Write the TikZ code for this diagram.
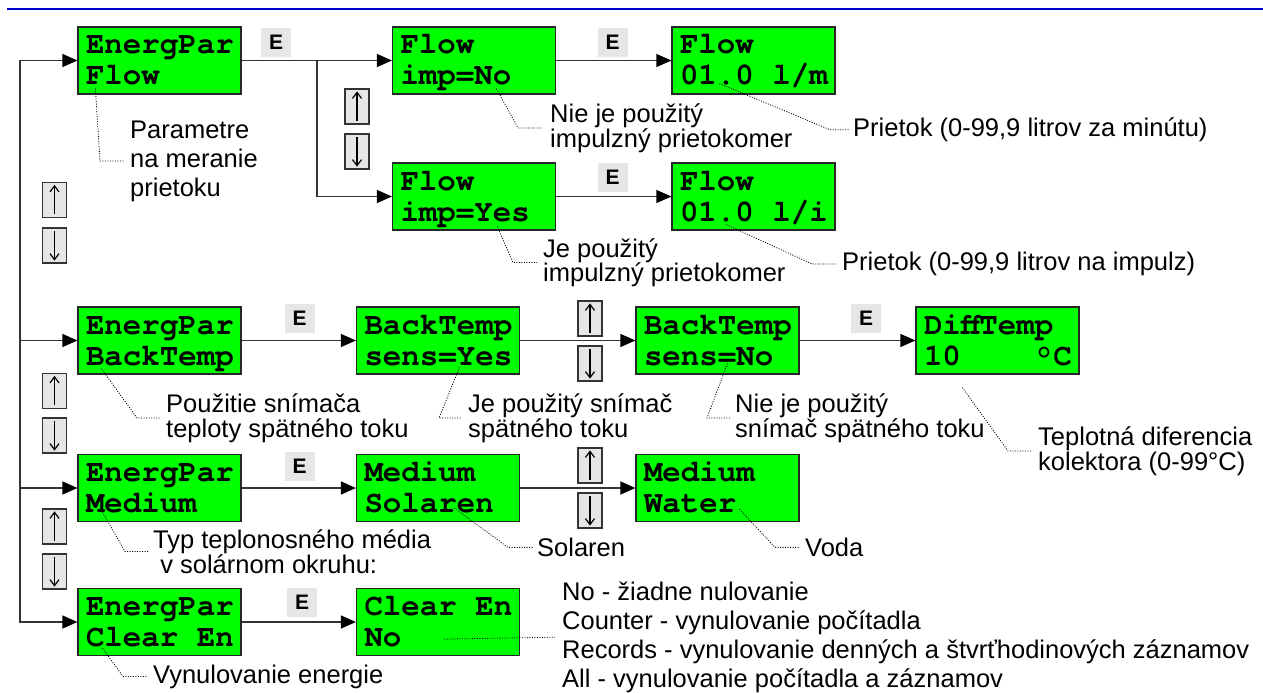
\documentclass[tikz,border=0pt]{standalone}
\usepackage{fontspec}
\setmainfont{Liberation Sans}
\newfontfamily\lcdfont{TeX Gyre Cursor}
\usetikzlibrary{arrows.meta}

\definecolor{lcdgreen}{RGB}{0,255,0}
\definecolor{keygray}{RGB}{230,230,230}
\definecolor{rulecol}{RGB}{0,0,200}

% one character cell of the display
\newcommand\lcdgap{\hphantom{0}}

\tikzset{
  lcd/.style={draw=black!85, line width=1.2pt, fill=lcdgreen,
    text width=147pt, inner xsep=8pt, inner ysep=0pt,
    text height=27pt, text depth=40pt, align=left,
    font=\lcdfont\bfseries\fontsize{30.8}{31}\selectfont},
  ekey/.style={fill=keygray, minimum width=30pt, minimum height=29pt,
    inner sep=0pt, font=\bfseries\fontsize{21}{21}\selectfont},
  btn/.style={draw=black!80, line width=1.2pt, fill=keygray,
    minimum width=24pt, minimum height=35pt, inner sep=0pt},
  keyarrow/.style={black, line width=1.2pt, -{Straight Barb[length=6pt,width=9pt]}},
  flowarr/.style={draw=black!80, line width=1.3pt,
    -{Triangle[length=15pt,width=13pt,black]}},
  lead/.style={black, line width=0.8pt, dash pattern=on 1pt off 1.5pt},
  % anchored on the baseline of the last line
  note/.style={anchor=base west, align=left, inner sep=0pt,
    font=\fontsize{25.5}{24.5}\selectfont},
  loose/.style={font=\fontsize{25.5}{28.8}\selectfont},
}

\begin{document}
\begin{tikzpicture}[x=1pt,y=-1pt]
  \useasboundingbox (0,0) rectangle (1263,693);
  \draw[rulecol,line width=1.3pt] (7,9) -- (1263,9);

  % displays
  \node[lcd] (parflow) at (159.5,60.5)  {EnergPar\\Flow};
  \node[lcd] (impno)   at (474,60.5)    {Flow\\imp=No};
  \node[lcd] (flowlm)  at (753.5,60.5)  {Flow\\01.0\lcdgap l/m};
  \node[lcd] (impyes)  at (474,196.5)   {Flow\\imp=Yes};
  \node[lcd] (flowli)  at (753.5,196.5) {Flow\\01.0\lcdgap l/i};
  \node[lcd] (parback) at (159.5,340.5) {EnergPar\\BackTemp};
  \node[lcd] (sensyes) at (438,340.5)   {BackTemp\\sens=Yes};
  \node[lcd] (sensno)  at (717.5,340.5) {BackTemp\\sens=No};
  \node[lcd] (difft)   at (997.5,340.5) {DiffTemp\\10\lcdgap\lcdgap\lcdgap\lcdgap °C};
  \node[lcd] (parmed)  at (159.5,488)   {EnergPar\\Medium};
  \node[lcd] (solar)   at (438,488)     {Medium\\Solaren};
  \node[lcd] (water)   at (717.5,488)   {Medium\\Water};
  \node[lcd] (parclr)  at (159.5,622)   {EnergPar\\Clear\lcdgap En};
  \node[lcd] (clrno)   at (438,622)     {Clear\lcdgap En\\No};

  % enter keys
  \node[ekey] (e1) at (276,42.5)    {E};
  \node[ekey] (e2) at (612.5,42.5)  {E};
  \node[ekey] (e3) at (612.5,177.5) {E};
  \node[ekey] (e4) at (299.5,318)   {E};
  \node[ekey] (e5) at (866,318)     {E};
  \node[ekey] (e6) at (299.5,466)   {E};
  \node[ekey] (e7) at (302,602.5)   {E};

  % up/down keys
  \node[btn] (fu)  at (357,106.5)  {};
  \node[btn] (fd)  at (357,151.5)  {};
  \node[btn] (lu1) at (54.5,200)   {};
  \node[btn] (ld1) at (54.5,245.5) {};
  \node[btn] (lu2) at (54.5,391)   {};
  \node[btn] (ld2) at (54.5,435.5) {};
  \node[btn] (lu3) at (54.5,526.5) {};
  \node[btn] (ld3) at (54.5,571.5) {};
  \node[btn] (bu)  at (590,318.5)  {};
  \node[btn] (bd)  at (590,363.5)  {};
  \node[btn] (mu)  at (590,465.5)  {};
  \node[btn] (md)  at (590,510.5)  {};
  \foreach \k in {fu,lu1,lu2,lu3,bu,mu}
    \draw[keyarrow] ([yshift=4pt]\k.south) -- ([yshift=-3pt]\k.north);
  \foreach \k in {fd,ld1,ld2,ld3,bd,md}
    \draw[keyarrow] ([yshift=-4pt]\k.north) -- ([yshift=3pt]\k.south);

  % menu flow
  \coordinate (bus) at (20,60.5);
  \coordinate (fork) at (317,60.5);
  \draw[flowarr] (bus) -- (parflow);
  \draw[flowarr] (bus) |- (parclr);
  \draw[flowarr] (bus |- parback) -- (parback);
  \draw[flowarr] (bus |- parmed) -- (parmed);
  \draw[flowarr] (parflow) -- (impno);
  \draw[flowarr] (fork) |- (impyes);
  \draw[flowarr] (impno) -- (flowlm);
  \draw[flowarr] (impyes) -- (flowli);
  \draw[flowarr] (parback) -- (sensyes);
  \draw[flowarr] (sensyes) -- (sensno);
  \draw[flowarr] (sensno) -- (difft);
  \draw[flowarr] (parmed) -- (solar);
  \draw[flowarr] (solar) -- (water);
  \draw[flowarr] (parclr) -- (clrno);

  % notes
  \node[note,loose] (parnote) at (130,196) {Parametre\\na meranie\\prietoku};
  \node[note] (nonote)   at (550,147)    {Nie je použitý\\impulzný prietokomer};
  \node[note] (lmnote)   at (853,136.5)  {Prietok (0-99,9 litrov za minútu)};
  \node[note] (yesnote)  at (543,281.5)  {Je použitý\\impulzný prietokomer};
  \node[note] (linote)   at (842,270.5)  {Prietok (0-99,9 litrov na impulz)};
  \node[note] (backnote) at (166,437)    {Použitie snímača\\teploty spätného toku};
  \node[note] (syesnote) at (468,437)    {Je použitý snímač\\spätného toku};
  \node[note] (snonote)  at (735,437)    {Nie je použitý\\snímač spätného toku};
  \node[note] (diffnote) at (1038,470)   {Teplotná diferencia\\kolektora (0-99°C)};
  \node[note] (mednote)  at (153,573)    {Typ teplonosného média\\\ v solárnom okruhu:};
  \node[note] (solnote)  at (537,556.5)  {Solaren};
  \node[note] (watnote)  at (805,556.5)  {Voda};
  \node[note] (clrpnote) at (153,683)    {Vynulovanie energie};
  \node[note,loose] (clrnote) at (562,687) {No - žiadne nulovanie\\Counter - vynulovanie počítadla\\Records - vynulovanie denných a štvrťhodinových záznamov\\All - vynulovanie počítadla a záznamov};

  % leaders
  \draw[lead] ([xshift=18pt,yshift=6pt]parflow.south west) -- ([xshift=-30pt]parnote.west) -- ([xshift=-6pt]parnote.west);
  \draw[lead] ([xshift=104.5pt,yshift=6pt]impno.south west) -- ([xshift=-32pt]nonote.west) -- ([xshift=-7pt]nonote.west);
  \draw[lead] ([xshift=48pt,yshift=11pt]flowlm.south west) -- ([xshift=-23pt]lmnote.west) -- ([xshift=-4pt]lmnote.west);
  \draw[lead] ([xshift=105.5pt,yshift=4pt]impyes.south west) -- ([xshift=-30pt]yesnote.west) -- ([xshift=-6pt]yesnote.west);
  \draw[lead] ([xshift=55pt,yshift=6pt]flowli.south west) -- ([xshift=-30pt]linote.west) -- ([xshift=-6pt]linote.west);
  \draw[lead] ([xshift=24pt,yshift=6pt]parback.south west) -- ([xshift=-29pt]backnote.west) -- ([xshift=-6pt]backnote.west);
  \draw[lead] ([xshift=103.5pt,yshift=7pt]sensyes.south west) -- ([xshift=-29pt]syesnote.west) -- ([xshift=-6pt]syesnote.west);
  \draw[lead] ([xshift=92pt,yshift=11pt]sensno.south west) -- ([xshift=-28pt]snonote.west) -- ([xshift=-5pt]snonote.west);
  \draw[lead] ([xshift=47pt,yshift=-13pt]difft.south west) -- ([xshift=-30pt]diffnote.west) -- ([xshift=-6pt]diffnote.west);
  \draw[lead] ([xshift=25pt,yshift=10pt]parmed.south west) -- ([xshift=-28pt]mednote.west) -- ([xshift=-5pt]mednote.west);
  \draw[lead] ([xshift=98.5pt,yshift=14pt]solar.south west) -- ([xshift=-29pt]solnote.west) -- ([xshift=-4pt]solnote.west);
  \draw[lead] ([xshift=104pt,yshift=13pt]water.south west) -- ([xshift=-30pt]watnote.west) -- ([xshift=-5pt]watnote.west);
  \draw[lead] ([xshift=25pt,yshift=8pt]parclr.south west) -- ([xshift=-30pt]clrpnote.west) -- ([xshift=-6pt]clrpnote.west);
  \draw[lead] ([xshift=88.5pt,yshift=17pt]clrno.south west) -- ([xshift=-7pt]clrnote.west);
\end{tikzpicture}
\end{document}
